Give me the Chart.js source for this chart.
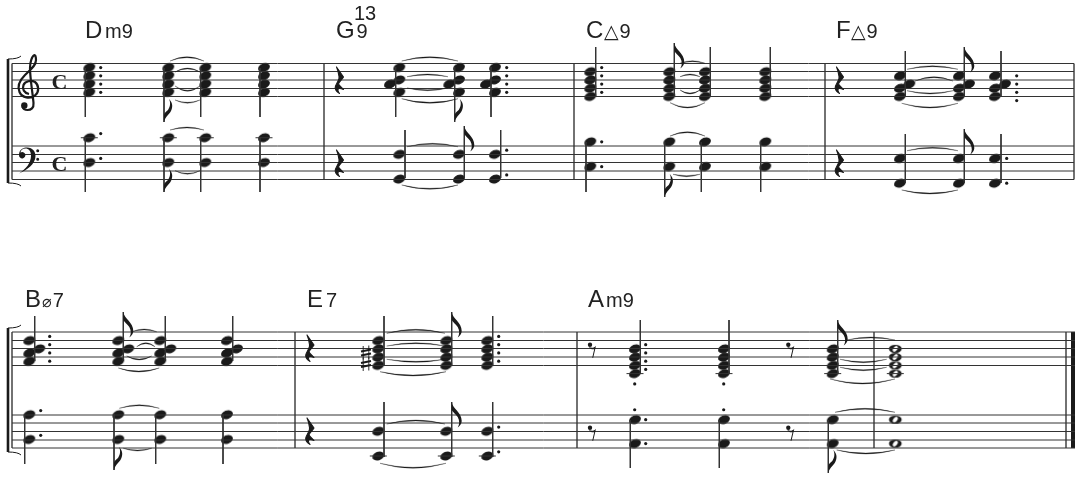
<!DOCTYPE html>
<html>
<head>
<meta charset="utf-8">
<style>
    html, body { margin: 0; padding: 0; background: #fff; }
    canvas { display: block; }
</style>
<script src="https://cdn.jsdelivr.net/npm/chart.js@4"></script>
</head>
<body>
<canvas id="partitura" width="1084" height="492"></canvas>
<script>
// tops of the staves, note pitches are counted in half spaces below the top line
const staffTops = [63.4, 146, 332.3, 414.7];
const halfSpace = 4.13;

const staffLines = [
    [12, 1074, [63.5, 71.5, 80, 88.5, 96.5]],
    [12, 1074, [146, 154.5, 162.5, 171, 179.5]],
    [12, 1075, [332, 340.5, 348.5, 357, 365.5]],
    [12, 1075, [415, 423, 431.5, 440, 448]]
];
const barlines = [
    [12, 63.5, 179.5], [324, 63.5, 179.5], [574, 63.5, 179.5], [825, 63.5, 179.5], [1074, 63.5, 179.5],
    [12, 332, 448], [295, 332, 448], [577, 332, 448], [874, 332, 448], [1066, 332, 448]
];
const finalBar = [[1073, 332, 448]];
const brackets = [[8, 59, 183], [8, 328, 452]];

const chordRoots = ['D', 'G', 'C', 'F', 'B', 'E', 'A'];
const chordRootX = [85, 336, 586, 836, 25, 307, 588];
const chordBase = [38, 38, 38, 38, 306.5, 306.5, 306.5];
const chordKinds = ['m9', '9', '△9', '△9', '⌀7', '7', 'm9'];
const chordKindX = [105, 356.5, 604, 851, 42, 326, 606];
const chordExtra = [['13', 354, 19.5]];

// staff, x, pitches
const noteHeads = [
    [0, 89.3, [1, 3, 5, 7]], [0, 168.3, [1, 3, 5, 7]], [0, 205.3, [1, 3, 5, 7]], [0, 264, [1, 3, 5, 7]],
    [1, 89.3, [-2, 4]], [1, 168.3, [-2, 4]], [1, 205.3, [-2, 4]], [1, 264, [-2, 4]],
    [0, 399.3, [1, 4, 7]], [0, 390, [5]], [0, 459, [1, 4, 7]], [0, 449.3, [5]], [0, 495, [1, 4, 7]], [0, 486, [5]],
    [1, 399.3, [2, 8]], [1, 459, [2, 8]], [1, 495, [2, 8]],
    [0, 590.3, [2, 4, 6, 8]], [0, 669.3, [2, 4, 6, 8]], [0, 705, [2, 4, 6, 8]], [0, 765.3, [2, 4, 6, 8]],
    [1, 590.3, [-1, 5]], [1, 669.3, [-1, 5]], [1, 705, [-1, 5]], [1, 765.3, [-1, 5]],
    [0, 900, [3, 6, 8]], [0, 909.3, [5]], [0, 959, [3, 6, 8]], [0, 969, [5]], [0, 995, [3, 6, 8]], [0, 1005, [5]],
    [1, 900, [3, 9]], [1, 959, [3, 9]], [1, 995, [3, 9]],
    [2, 29.3, [2, 5, 7]], [2, 39.3, [4]], [2, 118.3, [2, 5, 7]], [2, 128.3, [4]],
    [2, 160.3, [2, 5, 7]], [2, 170.3, [4]], [2, 227, [2, 5, 7]], [2, 237, [4]],
    [3, 29.3, [0, 6]], [3, 118.3, [0, 6]], [3, 160.3, [0, 6]], [3, 227, [0, 6]],
    [2, 378.3, [2, 4, 6, 8]], [2, 446.3, [2, 4, 6, 8]], [2, 487.3, [2, 4, 6, 8]],
    [3, 378.3, [4, 10]], [3, 446.3, [4, 10]], [3, 487.3, [4, 10]],
    [2, 635, [4, 6, 8, 10]], [2, 724, [4, 6, 8, 10]], [2, 832.7, [4, 6, 8, 10]],
    [3, 635, [1.2, 7]], [3, 724, [1.2, 7]], [3, 832.7, [1.2, 7]]
];
const wholeNotes = [[2, 895.3, [4, 6, 8, 10]], [3, 895.3, [1.2, 7]]];

const dots = [
    [0, 100.7, [1, 3, 5, 7]], [1, 100.7, [-3, 3]],
    [0, 506.7, [1, 3, 5, 7]], [1, 506.7, [1, 7]],
    [0, 601.7, [1, 3, 5, 7]], [1, 601.7, [-1, 5]],
    [0, 1016.7, [3, 5, 7, 9]], [1, 1006.7, [3, 9]],
    [2, 49.7, [1, 3, 5, 7]], [3, 40.7, [-1, 5]],
    [2, 498.7, [1, 3, 5, 7]], [3, 498.7, [3, 9]],
    [2, 645.7, [3, 5, 7, 9]], [2, 634.7, [12.5]], [2, 723.7, [12.5]],
    [3, 645.7, [1.2, 7]], [3, 634.7, [-1.2]], [3, 723.7, [-1.2]]
];

// staff, pitch, x
const ledgers = [
    [1, -2, 89.3], [1, -2, 168.3], [1, -2, 205.3], [1, -2, 264],
    [3, 10, 378.3], [3, 10, 446.3], [3, 10, 487.3],
    [2, 10, 635], [2, 10, 724], [2, 10, 832.7], [2, 10, 895.3]
];

// x, top, bottom
const stems = [
    [85.3, 68, 117], [164, 68, 122], [200.7, 68, 117], [260, 68, 117],
    [85.3, 137, 192], [164, 137, 192], [200.7, 137, 192], [260, 137, 192],
    [395.7, 67, 117], [454.7, 67, 122], [491, 67, 117],
    [405, 130, 178], [464.3, 126, 178], [500.7, 130, 178],
    [595.7, 47, 96], [674.3, 43, 96], [710.3, 47, 96], [770.3, 47, 96],
    [586, 142, 192], [664.7, 142, 197], [701.3, 142, 192], [760.7, 142, 192],
    [905.3, 51, 96], [964.3, 47, 96], [1001, 51, 96],
    [905.3, 134, 183], [964.3, 129, 183], [1001, 134, 183],
    [34.7, 316, 361], [123.3, 312, 361], [165.3, 316, 361], [232.7, 316, 361],
    [24.7, 414, 464], [114, 414, 470], [155.7, 414, 464], [223, 414, 464],
    [384, 316, 365], [451.7, 312, 365], [492.7, 316, 365],
    [384, 402, 457], [451.7, 402, 457], [492.7, 402, 457],
    [640.3, 320, 374], [729, 320, 374], [837.7, 320, 374],
    [630.3, 420, 468], [719.3, 420, 468], [828.3, 420, 473]
];
const flagsUp = [[464.3, 126], [674.3, 43], [964.3, 47], [964.3, 129], [123.3, 312], [451.7, 312], [451.7, 402], [837.7, 320]];
const flagsDown = [[164, 122], [164, 192], [454.7, 122], [664.7, 197], [114, 470], [828.3, 473]];

const quarterRests = [[335, 67], [335, 150], [835, 67], [835, 150], [305.5, 335], [305.5, 418]];
const eighthRests = [[590, 344.7], [788.3, 344.7], [590, 427.7], [788.3, 427.7]];
const sharps = [[366, 352.5], [366, 364]];
const commonTime = [[51.5, 89], [51.5, 171]];

// x0, y0, x1, y of the top of the curve
const ties = [
    [170, 61, 204, 56.7], [175, 72, 200, 68], [175, 86, 200, 91.3], [175, 100, 200, 103.3],
    [170, 130, 204, 127], [175, 170.7, 200, 174.3],
    [401.7, 61, 458, 56.7], [407, 76.7, 448, 74], [407, 88, 448, 90.7], [401.7, 98.7, 458, 103.3],
    [407, 146.7, 458, 143.3], [401.7, 185, 458, 189.3],
    [680, 63.3, 705, 60.7], [680, 76.7, 700, 74], [680, 90, 700, 94], [670, 102.7, 705, 108],
    [670, 136, 705, 131.7], [673, 174.3, 700, 176.7],
    [907, 69.3, 958, 65.7], [915, 81, 953, 76.7], [907, 90.7, 953, 94], [901.7, 103.3, 958, 108],
    [907, 150.7, 958, 147.3], [901.7, 190, 958, 194],
    [131.7, 331.7, 156.7, 329], [136.7, 346.7, 155, 342.7], [126.7, 356, 151.7, 360], [118.3, 368, 159.3, 372],
    [119.3, 408.3, 159.3, 404.7], [123.3, 448.3, 151.7, 451],
    [386.7, 333.3, 445, 329.3], [386.7, 346, 445, 342.7], [386.7, 359.3, 445, 362.3], [380, 371.7, 446, 376],
    [386.7, 424, 445, 420], [380, 463.3, 446, 468.3],
    [846.7, 340, 895, 337], [840, 359.3, 886.7, 362.7], [840, 367.3, 886.7, 370.7], [830, 379, 895, 384],
    [835, 412.3, 895, 408.3], [836.7, 450, 895, 454]
];

const tinta = '#1a1a1a';

function pitchPoints(rows) {
    const pontos = [];
    rows.forEach(row => {
        row[2].forEach(passo => {
            pontos.push({ x: row[1], y: staffTops[row[0]] + passo * halfSpace });
        });
    });
    return pontos;
}

function segments(rows) {
    const pontos = [];
    rows.forEach(row => {
        pontos.push({ x: row[0], y: row[1] }, { x: row[2], y: row[3] }, { x: row[0], y: null });
    });
    return pontos;
}

function headSymbol(oca) {
    const c = document.createElement('canvas');
    c.width = 16;
    c.height = 12;
    const g = c.getContext('2d');
    g.translate(8, 6);
    g.fillStyle = tinta;
    g.save();
    if (oca) {
        g.beginPath();
        g.ellipse(0, 0, 6.4, 4.1, 0, 0, Math.PI * 2);
        g.fill();
        g.globalCompositeOperation = 'destination-out';
        g.rotate(-0.9);
        g.beginPath();
        g.ellipse(0, 0, 3.3, 1.9, 0, 0, Math.PI * 2);
        g.fill();
    } else {
        g.rotate(-0.38);
        g.beginPath();
        g.ellipse(0, 0, 6.1, 4.2, 0, 0, Math.PI * 2);
        g.fill();
    }
    g.restore();
    return c;
}

const linhaDados = [];
staffLines.forEach(s => s[2].forEach(y => linhaDados.push([s[0], y, s[1], y])));
const barDados = barlines.map(b => [b[0], b[1], b[0], b[2]]);
const stemDados = stems.map(s => [s[0], s[1], s[0], s[2]]);
const ledgerDados = ledgers.map(l => {
    const y = staffTops[l[0]] + l[1] * halfSpace;
    return [l[2] - 8.5, y, l[2] + 8.5, y];
});

const flagUpPath = new Path2D('M0 0C1 7 10 10 10 19C10 22 8 24 6 25.5C8 22 8 19 6 15C4 12 1 10 0 8Z');
const flagDownPath = new Path2D('M0 0C1 -6 7 -8 8 -14C9 -18 7 -21 5 -23C7 -19 6 -15 4 -12C2 -10 0 -9 0 -7Z');
const restPath = new Path2D('M1.5 0L8.5 10C7 13 4 14.5 3.5 17C4.5 19 7 20.5 8.5 22.5C5 21 2.5 21 3 23.5C3.3 25 4 26 4.5 26.5C1 25 -0.5 21.5 0.5 19C1 17.5 2 16.5 2.5 15C3.5 13 4.5 11.5 4 9.5C3.5 6 3 3 1.5 0Z');
const eighthPath = new Path2D('M-1 2C1 3.5 4 3.5 6 1L3.2 13L2.2 13L4.2 4.5C2.5 5 0 4.5 -1 2ZM2.2 0A2.2 2.2 0 1 1 -2.2 0A2.2 2.2 0 1 1 2.2 0Z');
const sharpThin = new Path2D('M-2.8 -6.5L-2.8 7M2.8 -7L2.8 6.5');
const sharpBars = new Path2D('M-5 -1L5 -3M-5 3L5 1');
const bassPath = new Path2D('M19 155C19 149 24 147.5 27 147.5C33 147.5 35.5 152 35.5 156C35.5 164 27 170 19 173.5C26 169 31 163 31 155.5C31 151 28.5 148.5 25.5 148.5C22.5 148.5 20.5 150.5 20.5 152.5A3.2 3.2 0 1 1 19 155Z');
const bassDots = new Path2D('M39.2 150.7A1.5 1.5 0 1 1 36.2 150.7A1.5 1.5 0 1 1 39.2 150.7ZM39.2 159.3A1.5 1.5 0 1 1 36.2 159.3A1.5 1.5 0 1 1 39.2 159.3Z');
const clefLine = new Path2D('M29 94C24 93 22 89 23.5 85C25 81 31 80 35 82C39 85 39.5 92 35 95.5C30 99 22 98 19.5 92C17 86 20 80 25 75C30 70 36 66 36 60C36 56 35 55 34.5 55C32 56 30 62 30 68C30 78 33 96 33.5 103C34 108 31 110 27.5 110C25 110 23 108.5 22.5 106.5');
const clefBall = new Path2D('M27.5 105.5A3.2 3.2 0 1 1 21.1 105.5A3.2 3.2 0 1 1 27.5 105.5Z');

const marcas = {
    id: 'marcas',
    afterDatasetsDraw(chart) {
        const c = chart.ctx;
        const sx = chart.scales.x;
        const sy = chart.scales.y;
        const px = v => sx.getPixelForValue(v);
        const py = v => sy.getPixelForValue(v);
        c.save();
        c.fillStyle = tinta;
        c.strokeStyle = tinta;

        ties.forEach(t => {
            const meio = px((t[0] + t[2]) / 2);
            const ctrl = 2 * t[3] - t[1];
            const lado = t[3] < t[1] ? -1 : 1;
            c.beginPath();
            c.moveTo(px(t[0]), py(t[1]));
            c.quadraticCurveTo(meio, py(ctrl), px(t[2]), py(t[1]));
            c.quadraticCurveTo(meio, py(ctrl - lado * 1.9), px(t[0]), py(t[1]));
            c.fill();
            c.lineWidth = 0.3;
            c.stroke();
        });

        const glifo = (lista, caminho) => lista.forEach(p => {
            c.save();
            c.translate(px(p[0]), py(p[1]));
            c.fill(caminho);
            c.restore();
        });
        glifo(flagsUp, flagUpPath);
        glifo(flagsDown, flagDownPath);
        glifo(eighthRests, eighthPath);

        quarterRests.forEach(p => {
            c.save();
            c.translate(px(p[0]), py(p[1]));
            c.lineWidth = 1.1;
            c.lineJoin = 'round';
            c.fill(restPath);
            c.stroke(restPath);
            c.restore();
        });

        sharps.forEach(s => {
            c.save();
            c.translate(px(s[0]), py(s[1]));
            c.lineWidth = 0.9;
            c.stroke(sharpThin);
            c.lineWidth = 2;
            c.stroke(sharpBars);
            c.restore();
        });

        c.lineWidth = 2.2;
        c.stroke(clefLine);
        c.fill(clefBall);
        c.fill(bassPath);
        c.fill(bassDots);

        // ponta dos colchetes
        brackets.forEach(b => {
            c.lineWidth = 1;
            c.beginPath();
            c.moveTo(px(b[0]), py(b[1]));
            c.quadraticCurveTo(px(b[0] + 10), py(b[1]), px(b[0] + 13), py(b[1] - 3));
            c.moveTo(px(b[0]), py(b[2]));
            c.quadraticCurveTo(px(b[0] + 10), py(b[2]), px(b[0] + 13), py(b[2] + 3));
            c.stroke();
        });

        c.textBaseline = 'alphabetic';
        c.textAlign = 'left';
        c.fillStyle = '#222';
        c.font = 'bold 22px "Liberation Serif"';
        commonTime.forEach(t => c.fillText('C', px(t[0]), py(t[1])));

        chordRoots.forEach((raiz, i) => {
            c.font = '24px "Liberation Sans"';
            c.fillText(raiz, px(chordRootX[i]), py(chordBase[i]));
            let x = px(chordKindX[i]);
            Array.from(chordKinds[i]).forEach(letra => {
                const simbolo = letra === '△' || letra === '⌀';
                c.font = simbolo ? (letra === '△' ? '19px "DejaVu Sans"' : '16px "DejaVu Sans"') : '20px "Liberation Sans"';
                c.fillText(letra, x, py(chordBase[i]));
                x += c.measureText(letra).width + (simbolo ? 1 : 0);
            });
        });
        c.font = '20px "Liberation Sans"';
        chordExtra.forEach(t => c.fillText(t[0], px(t[1]), py(t[2])));
        c.restore();
    }
};

function lineSet(rows, largura, cor) {
    return {
        type: 'scatter',
        data: segments(rows),
        showLine: true,
        spanGaps: false,
        pointRadius: 0,
        borderColor: cor,
        borderWidth: largura,
        borderCapStyle: 'butt'
    };
}

function pointSet(rows, estilo, raio) {
    return {
        type: 'scatter',
        data: pitchPoints(rows),
        pointStyle: estilo,
        pointRadius: raio,
        pointBackgroundColor: tinta,
        pointBorderWidth: 0,
        showLine: false
    };
}

new Chart(document.getElementById('partitura'), {
    data: {
        datasets: [
            lineSet(linhaDados, 1, '#333'),
            lineSet(barDados, 1.5, '#444'),
            lineSet(finalBar.map(b => [b[0], b[1], b[0], b[2]]), 4, tinta),
            lineSet(brackets.map(b => [b[0], b[1], b[0], b[2]]), 2.6, tinta),
            lineSet(stemDados, 1, '#333'),
            lineSet(ledgerDados, 1, '#333'),
            pointSet(noteHeads, headSymbol(false), 6),
            pointSet(wholeNotes, headSymbol(true), 6),
            pointSet(dots, 'circle', 1.6)
        ]
    },
    options: {
        responsive: false,
        animation: false,
        layout: { padding: 0, autoPadding: false },
        scales: {
            x: { type: 'linear', min: 0, max: 1084, display: false },
            y: { type: 'linear', min: 0, max: 492, reverse: true, display: false }
        },
        plugins: {
            legend: { display: false },
            tooltip: { enabled: false }
        }
    },
    plugins: [marcas]
});
</script>
</body>
</html>
